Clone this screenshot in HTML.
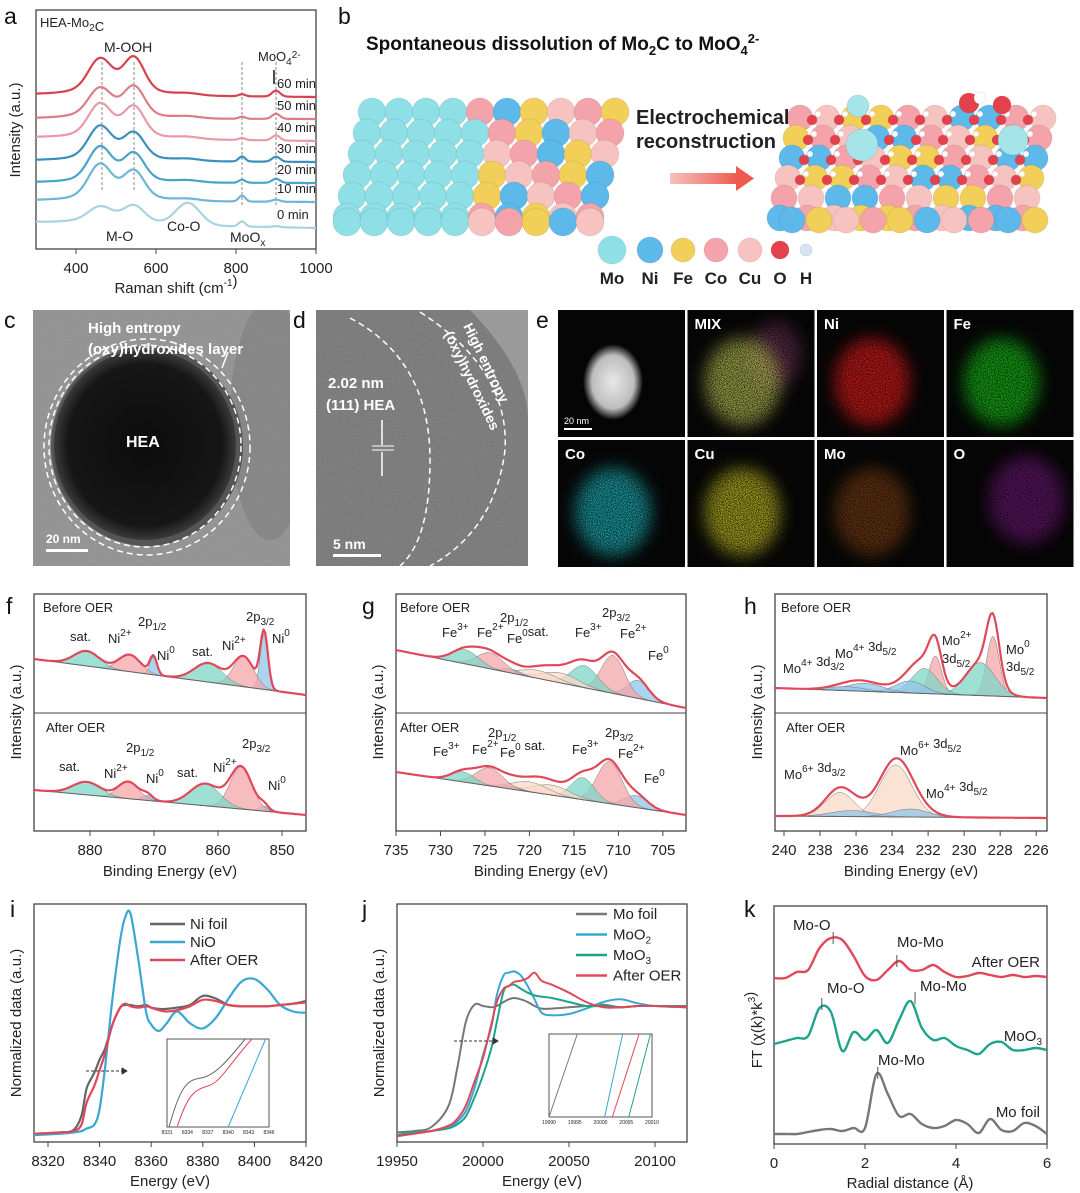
<!DOCTYPE html>
<html><head><meta charset="utf-8">
<style>
html,body{margin:0;padding:0;background:#fff;}
svg{display:block;font-family:"Liberation Sans",Arial,sans-serif;}
.tk{font-size:15px;fill:#222;}
.ax{font-size:15px;fill:#222;}
.lb{font-size:14px;fill:#222;}
.let{font-size:23px;fill:#111;}
.wt{fill:#fff;font-weight:bold;}
</style></head>
<body>
<svg id="fig" width="1080" height="1193" viewBox="0 0 1080 1193">
<defs>
 <filter id="grain" x="0" y="0" width="100%" height="100%"><feTurbulence type="fractalNoise" baseFrequency="0.9" numOctaves="2" seed="3"/><feColorMatrix type="matrix" values="0 0 0 0 0.5  0 0 0 0 0.5  0 0 0 0 0.5  0 0 0 0.5 0"/></filter>
 <filter id="speck" x="-20%" y="-20%" width="140%" height="140%"><feGaussianBlur in="SourceGraphic" stdDeviation="8" result="b"/><feTurbulence type="fractalNoise" baseFrequency="1.4" numOctaves="1" seed="7" result="n"/><feColorMatrix in="n" type="matrix" values="0 0 0 0 0  0 0 0 0 0  0 0 0 0 0  0 0 0 -2.2 1.6" result="m"/><feComposite in="b" in2="m" operator="in"/></filter>
 <clipPath id="clipc"><rect x="33" y="310" width="257" height="256"/></clipPath>
 <clipPath id="clipd"><rect x="316" y="310" width="212" height="256"/></clipPath>
 <clipPath id="clipi"><rect x="34" y="904" width="272" height="238"/></clipPath>
 <clipPath id="clipj"><rect x="397" y="904" width="290" height="238"/></clipPath>
 <radialGradient id="hea" cx="0.5" cy="0.5" r="0.5"><stop offset="0" stop-color="#0c0c0c"/><stop offset="0.85" stop-color="#161616"/><stop offset="1" stop-color="#3a3a3a"/></radialGradient>
 <radialGradient id="haadf" cx="0.5" cy="0.5" r="0.5"><stop offset="0" stop-color="#e8e8e8"/><stop offset="0.7" stop-color="#bdbdbd"/><stop offset="1" stop-color="#bdbdbd" stop-opacity="0"/></radialGradient>
 <linearGradient id="arr" x1="0" x2="1"><stop offset="0" stop-color="#f7c1bd"/><stop offset="1" stop-color="#ee5a4e"/></linearGradient>
</defs>

<text class="let" x="4" y="24">a</text>
<text class="let" x="338" y="24">b</text>
<text class="let" x="4" y="328">c</text>
<text class="let" x="293" y="328">d</text>
<text class="let" x="536" y="328">e</text>
<text class="let" x="6" y="614">f</text>
<text class="let" x="362" y="614">g</text>
<text class="let" x="744" y="614">h</text>
<text class="let" x="10" y="917">i</text>
<text class="let" x="362" y="917">j</text>
<text class="let" x="744" y="917">k</text>

<g id="pa"></g>
<g id="pb">
 <text x="366" y="50" font-size="19" font-weight="bold" fill="#111">Spontaneous dissolution of Mo<tspan font-size="13" dy="5">2</tspan><tspan dy="-5">C to MoO</tspan><tspan font-size="13" dy="5">4</tspan><tspan font-size="13" dy="-12">2-</tspan></text>
 <g id="spheres"></g>
 <text x="636" y="124" font-size="20" font-weight="bold" fill="#222">Electrochemical</text>
 <text x="636" y="148" font-size="20" font-weight="bold" fill="#222">reconstruction</text>
 <rect x="670" y="173" width="68" height="11" fill="url(#arr)"/>
 <polygon points="736,166 754,178.5 736,191" fill="#ee5a4e"/>
</g>

<g clip-path="url(#clipc)">
 <rect x="33" y="310" width="257" height="256" fill="#8e8e8e"/>
 <rect x="33" y="310" width="257" height="256" filter="url(#grain)" opacity="0.6"/>
 <ellipse cx="270" cy="420" rx="40" ry="120" fill="#7a7a7a" opacity="0.5"/>
 <ellipse cx="147" cy="446" rx="96" ry="100" fill="#555"/>
 <ellipse cx="145" cy="445" rx="91" ry="95" fill="url(#hea)"/>
 <ellipse cx="145" cy="446" rx="96" ry="101" fill="none" stroke="#fff" stroke-width="1.5" stroke-dasharray="6,4"/>
 <ellipse cx="147" cy="447" rx="103" ry="108" fill="none" stroke="#fff" stroke-width="1.5" stroke-dasharray="6,4"/>
 <line x1="222" y1="368" x2="228" y2="352" stroke="#fff" stroke-width="1.5"/>
 <text x="88" y="333" font-size="15" class="wt">High entropy</text>
 <text x="88" y="354" font-size="15" class="wt">(oxy)hydroxides layer</text>
 <text x="126" y="447" font-size="16" class="wt">HEA</text>
 <text x="46" y="543" font-size="12" class="wt">20 nm</text>
 <rect x="46" y="549" width="42" height="3" fill="#fff"/>
</g>
<g clip-path="url(#clipd)">
 <rect x="316" y="310" width="212" height="256" fill="#6e6e6e"/>
 <rect x="316" y="310" width="212" height="256" filter="url(#grain)" opacity="0.8"/>
 <path d="M470,310 Q528,370 528,420 L528,310 Z" fill="#9a9a9a"/>
 <path d="M350,318 Q430,360 430,460 Q430,540 400,566" fill="none" stroke="#fff" stroke-width="1.5" stroke-dasharray="6,4"/>
 <path d="M420,312 Q510,370 505,450 Q495,530 430,566" fill="none" stroke="#fff" stroke-width="1.5" stroke-dasharray="6,4"/>
 <text x="328" y="388" font-size="15" class="wt">2.02 nm</text>
 <text x="326" y="410" font-size="15" class="wt">(111) HEA</text>
 <line x1="382" y1="420" x2="382" y2="445" stroke="#fff" stroke-width="1.5"/>
 <line x1="382" y1="452" x2="382" y2="476" stroke="#fff" stroke-width="1.5"/>
 <line x1="372" y1="446" x2="394" y2="446" stroke="#fff" stroke-width="1"/>
 <line x1="372" y1="450" x2="394" y2="450" stroke="#fff" stroke-width="1"/>
 <text x="0" y="0" font-size="14" class="wt" transform="translate(463,326) rotate(64)">High entropy</text>
 <text x="0" y="0" font-size="14" class="wt" transform="translate(444,334) rotate(64)">(oxy)hydroxides</text>
 <text x="333" y="549" font-size="14" class="wt">5 nm</text>
 <rect x="333" y="554" width="48" height="3" fill="#fff"/>
</g>
<g id="pe"></g>

<g id="charts"></g>
</svg>

<script>
// ---------- data ----------
const ramanTimes = ['0 min','10 min','20 min','30 min','40 min','50 min','60 min'];
const ramanBaseLeft = [27,49,67,89,112,131,155];
const ramanBaseRight = [21,47,66,87,108,130,152];
const ramanCenters = [460,545,500,680,815,900];
const ramanSigmas = [28,25,80,30,8,10];
const h460 = [12,30,30,28,28,24,28];
const h545 = [14,24,24,22,26,26,30];
const hBroad = [6,8,7,8,8,8,10];
const h680 = [22,2,2,2,2,2,2];
const h815 = [5,6,3,5,2,2,2];
const h900 = [1,2,4,5,5,5,6];
const ramanColors = ['#a9d3e0','#6db6d4','#4aa3c8','#3a8fbf','#e99aa6','#dd7c88','#d6434f'];
const ramanTicks = [400,600,800,1000];

const niBeforeBase = [54,18];
const niBeforePeaks = [[852.8,56,0.6],[856,30,1.6],[861.5,19,2.2],[870.1,18,0.55],[873.8,17,1.7],[880.5,15,2.0]];
const niAfterBase = [41,16];
const niAfterPeaks = [[852.8,5,0.7],[856.4,42,1.7],[862,22,2.3],[871,5,0.8],[874,17,1.6],[880.5,13,2.2]];
const niTicks = [880,870,860,850];

const feBeforeBase = [63,5];
const feBeforePeaks = [[707.8,18,1.2],[710.6,38,1.3],[713.8,22,1.5],[716.5,10,2],[719,8,2],[722,4,1],[724.4,16,1.5],[727.2,14,1.5]];
const feAfterBase = [59,16];
const feAfterPeaks = [[708,12,1.3],[711,42,1.4],[714,22,1.3],[717.5,10,2],[720,10,2],[722,3,1],[724.5,18,1.5],[727.5,10,1.3]];
const feTicks = [735,730,725,720,715,710,705];

const moBeforeBase = [25,15];
const moBeforePeaks = [[228.4,60,0.35],[229.1,33,0.8],[231.6,38,0.35],[232.2,25,0.7],[233,12,0.8],[235.5,8,1],[236.5,4,1]];
const moAfterBase = [15,13];
const moAfterPeaks = [[233.8,52,0.9],[236.9,24,0.8],[236.2,6,1.2],[233,8,1]];
const moTicks = [240,238,236,234,232,230,228,226];

const niE = [8315,8325,8330,8333,8335,8338,8340,8342,8345,8348,8350,8352,8355,8358,8360,8363,8366,8370,8375,8380,8385,8390,8395,8400,8405,8410,8415,8420];
const niFoil = [0.01,0.02,0.04,0.15,0.36,0.48,0.58,0.66,0.85,0.98,1.0,1.0,0.99,1.0,0.98,0.97,0.97,0.98,1.0,1.07,1.05,1.0,0.99,0.99,0.99,1.0,1.01,1.03];
const niO = [0.0,0.01,0.02,0.03,0.05,0.08,0.2,0.5,1.05,1.5,1.68,1.7,1.35,0.95,0.85,0.8,0.86,0.95,0.86,0.82,0.9,1.05,1.18,1.2,1.12,1.0,0.95,0.94];
const niAfter = [0.01,0.02,0.03,0.08,0.25,0.38,0.5,0.62,0.85,0.98,1.01,0.99,0.98,0.99,0.98,0.96,0.95,0.96,0.99,1.04,1.03,1.0,0.99,0.99,0.99,1.0,1.01,1.02];
const niXTicks = [8320,8340,8360,8380,8400,8420];

const moE = [19950,19960,19970,19980,19985,19990,19995,20000,20005,20008,20012,20015,20018,20022,20026,20030,20034,20040,20050,20060,20070,20080,20090,20100,20119];
const moFoil = [0.02,0.03,0.06,0.22,0.5,0.85,0.98,0.97,0.96,0.97,1.0,1.02,1.03,1.02,1.0,0.97,0.95,0.95,0.96,0.97,0.98,0.96,0.97,0.97,0.97];
const moO2 = [0.0,0.02,0.03,0.06,0.1,0.18,0.35,0.6,0.82,1.05,1.2,1.22,1.23,1.2,1.12,1.02,0.92,0.9,0.91,0.95,1.0,1.02,0.99,0.97,0.96];
const moO3 = [0.0,0.02,0.03,0.05,0.08,0.14,0.28,0.45,0.66,0.85,1.08,1.12,1.13,1.1,1.07,1.05,1.04,1.03,1.0,0.97,0.97,0.96,0.97,0.97,0.96];
const moAfter = [-0.01,0.01,0.03,0.07,0.12,0.22,0.4,0.58,0.84,1.0,1.1,1.12,1.15,1.16,1.18,1.22,1.16,1.13,1.07,1.0,0.96,0.96,0.97,0.97,0.96];
const moXTicks = [19950,20000,20050,20100];
const moLegend = ['Mo foil','MoO2','MoO3','After OER'];

const ftR = [0,0.25,0.5,0.75,1,1.25,1.5,1.75,2,2.25,2.5,2.75,3,3.25,3.5,3.75,4,4.25,4.5,4.75,5,5.25,5.5,5.75,6];
const ftAfter = [16.6,16.6,17.2,17.4,19.6,20.6,20.4,18.8,16.8,16.4,17.4,18.3,17.4,17.4,17.9,17.2,16.7,16.8,17.1,16.9,16.7,16.9,16.7,16.8,16.7];
const ftMoO3 = [10.0,10.3,10.6,10.8,13.6,13.2,9.3,11.2,10.4,11.4,10.1,12.4,14.3,11.6,10.4,10.6,9.8,9.4,9.0,10.0,10.2,9.4,9.4,9.6,9.4];
const ftMoFoil = [1.0,1.0,1.0,1.2,1.4,1.5,1.3,1.6,1.6,7.0,5.0,2.8,3.0,2.0,1.6,1.8,2.4,2.0,1.1,2.5,1.4,1.3,2.1,1.8,1.0];
const ftTicks = [0,2,4,6];

// ---------- helpers ----------
const NS = 'http://www.w3.org/2000/svg';
function el(tag, parent){ const e=document.createElementNS(NS,tag); parent.appendChild(e); return e; }
function smooth(p){
  let d='M'+p[0][0].toFixed(1)+','+p[0][1].toFixed(1);
  for(let i=0;i<p.length-1;i++){
    const p0=p[i-1]||p[i], p1=p[i], p2=p[i+1], p3=p[i+2]||p2;
    const c1=[p1[0]+(p2[0]-p0[0])/6, p1[1]+(p2[1]-p0[1])/6];
    const c2=[p2[0]-(p3[0]-p1[0])/6, p2[1]-(p3[1]-p1[1])/6];
    d+='C'+c1[0].toFixed(1)+','+c1[1].toFixed(1)+' '+c2[0].toFixed(1)+','+c2[1].toFixed(1)+' '+p2[0].toFixed(1)+','+p2[1].toFixed(1);
  }
  return d;
}
function lin(d0,d1,r0,r1){ return v=> r0+(v-d0)*(r1-r0)/(d1-d0); }
function gauss(x,c,h,s){ return h*Math.exp(-(x-c)*(x-c)/(2*s*s)); }
const charts=document.getElementById('charts');

function frame(x0,y0,x1,y1,name){
  const r=el('rect',charts);
  r.setAttribute('x',x0);r.setAttribute('y',y0);r.setAttribute('width',x1-x0);r.setAttribute('height',y1-y0);
  r.setAttribute('fill','none');r.setAttribute('stroke','#444');r.setAttribute('stroke-width','1.3');
  
  
}
function xTicks(ticks,sx,y,lab,name){
  ticks.forEach(t=>{
    const x=sx(t);
    const l=el('line',charts);
    l.setAttribute('x1',x);l.setAttribute('x2',x);l.setAttribute('y1',y);l.setAttribute('y2',y+5);l.setAttribute('stroke','#444');
    
    
    const tx=el('text',charts);
    tx.setAttribute('x',x);tx.setAttribute('y',y+24);tx.setAttribute('text-anchor','middle');tx.setAttribute('class','tk');
    tx.textContent=lab?lab(t):t;
    
    
  });
}
function text(x,y,str,cls,name,extra,parent){
  const t=el('text',parent||charts);
  t.setAttribute('x',x);t.setAttribute('y',y);t.setAttribute('class',cls||'lb');
  t.innerHTML=str;
  if(extra) for(const k in extra) t.setAttribute(k,extra[k]);
  
  
  return t;
}
function ylabel(x,y,str,name){
  return text(0,0,str,'ax',name,{transform:'translate('+x+','+y+') rotate(-90)','text-anchor':'middle'});
}
function path(d,stroke,w,fill,name,parent){
  const p=el('path',parent||charts);
  p.setAttribute('d',d);p.setAttribute('stroke',stroke);p.setAttribute('stroke-width',w);p.setAttribute('fill',fill||'none');
  p.setAttribute('stroke-linejoin','round');
  
  
  return p;
}
function sub(s){return '<tspan font-size="10" dy="4">'+s+'</tspan><tspan dy="-4"></tspan>';}
function sup(s){return '<tspan font-size="10" dy="-7">'+s+'</tspan><tspan dy="7"></tspan>';}

// ---------- panel a ----------
(function(){
  const sx=lin(300,1000,36,316), sy=v=>249-v;
  frame(36,10,316,249,'raman-plot-frame');
  xTicks(ramanTicks,sx,249,null,'raman-x');
  text(176,293,'Raman shift (cm'+sup('-1')+')','ax','raman-x-axis-title',{'text-anchor':'middle'});
  ylabel(20,130,'Intensity (a.u.)','raman-y-axis-title');
  [465,545,815,900].forEach((c,i)=>{
    const p=path('M'+sx(c)+',62 L'+sx(c)+','+(i<2?190:205),'#888',1,null,'raman-guide-line');
    p.setAttribute('stroke-dasharray','3,2');
  });
  ramanTimes.forEach((t,k)=>{
    const pts=[];
    for(let x=300;x<=1000;x+=5){
      const base=ramanBaseLeft[k]+(ramanBaseRight[k]-ramanBaseLeft[k])*(x-300)/700;
      const hs=[h460[k],h545[k],hBroad[k],h680[k],h815[k],h900[k]];
      let v=base; hs.forEach((h,j)=>{v+=gauss(x,ramanCenters[j],h,ramanSigmas[j]);});
      pts.push([sx(x),sy(v)]);
    }
    path(smooth(pts),ramanColors[k],2.2,null,'raman-curve-'+t.replace(' ','-'));
    text(277,sy(ramanBaseRight[k])-9,t,'lb','raman-time-label',{style:'font-size:13px'});
  });
  text(40,27,'HEA-Mo'+sub('2')+'C','lb','sample-label',{style:'font-size:13px'});
  text(104,52,'M-OOH','lb','m-ooh-label');
  text(258,61,'MoO'+sub('4')+sup('2-'),'lb','moo4-label',{style:'font-size:13px'});
  path('M274,84 L274,70','#111',1.5,null,'moo4-arrow');
  text(106,241,'M-O','lb','m-o-label');
  text(167,231,'Co-O','lb','co-o-label');
  text(230,242,'MoO'+sub('x'),'lb','moox-label');
})();

// ---------- XPS ----------
const compCol=['#8fc6ea','#f4a6a8','#7fd6c6','#f8d9c6'];
function xps(cfg){
  const sx=lin(cfg.d0,cfg.d1,cfg.x0,cfg.x1);
  frame(cfg.x0,594,cfg.x1,831,cfg.name+'-frame');
  const div=el('line',charts);
  div.setAttribute('x1',cfg.x0);div.setAttribute('x2',cfg.x1);div.setAttribute('y1',713);div.setAttribute('y2',713);div.setAttribute('stroke','#444');
  
  
  [[cfg.bBase,cfg.bPeaks,713,'before'],[cfg.aBase,cfg.aPeaks,831,'after']].forEach(([base,peaks,bot,tag])=>{
    const N=160, xs=[];
    for(let i=0;i<=N;i++) xs.push(cfg.d0+(cfg.d1-cfg.d0)*i/N);
    const bl=x=>base[0]+(base[1]-base[0])*(x-cfg.d0)/(cfg.d1-cfg.d0);
    peaks.forEach((pk,j)=>{
      const top=xs.map(x=>[sx(x),bot-bl(x)-gauss(x,pk[0],pk[1],pk[2])]);
      const bottom=xs.slice().reverse().map(x=>[sx(x),bot-bl(x)]);
      const col=cfg.colors[tag][j];
      const p=path('M'+top.map(q=>q[0].toFixed(1)+','+q[1].toFixed(1)).join('L')+'L'+bottom.map(q=>q[0].toFixed(1)+','+q[1].toFixed(1)).join('L')+'Z','#777',0.5,col,cfg.name+'-'+tag+'-component');
      p.setAttribute('fill-opacity','0.75');
    });
    path('M'+xs.map(x=>sx(x).toFixed(1)+','+(bot-bl(x)).toFixed(1)).join('L'),'#666',1,null,cfg.name+'-'+tag+'-background');
    const env=xs.map(x=>{let v=bl(x);peaks.forEach(pk=>v+=gauss(x,pk[0],pk[1],pk[2]));return [sx(x),bot-v];});
    path('M'+env.map(q=>q[0].toFixed(1)+','+q[1].toFixed(1)).join('L'),'#e0485a',2.2,null,cfg.name+'-'+tag+'-envelope');
  });
  xTicks(cfg.ticks,sx,831,null,cfg.name+'-x');
  text((cfg.x0+cfg.x1)/2,876,'Binding Energy (eV)','ax',cfg.name+'-x-axis-title',{'text-anchor':'middle'});
  ylabel(cfg.x0-13,712,'Intensity (a.u.)',cfg.name+'-y-axis-title');
}
const B=compCol[0],P=compCol[1],T=compCol[2],L=compCol[3];
xps({name:'ni-2p',d0:888.75,d1:846.25,x0:34,x1:306,ticks:niTicks,bBase:niBeforeBase,bPeaks:niBeforePeaks,aBase:niAfterBase,aPeaks:niAfterPeaks,
  colors:{before:[B,P,T,B,P,T],after:[B,P,T,B,P,T]}});
xps({name:'fe-2p',d0:735,d1:702.4,x0:396,x1:686,ticks:feTicks,bBase:feBeforeBase,bPeaks:feBeforePeaks,aBase:feAfterBase,aPeaks:feAfterPeaks,
  colors:{before:[B,P,T,L,L,B,P,T],after:[B,P,T,L,L,B,P,T]}});
xps({name:'mo-3d',d0:240.5,d1:225.4,x0:775,x1:1047,ticks:moTicks,bBase:moBeforeBase,bPeaks:moBeforePeaks,aBase:moAfterBase,aPeaks:moAfterPeaks,
  colors:{before:[P,T,P,T,B,B,B],after:[L,L,B,B]}});

[[43,612,'Before OER'],[70,641,'sat.'],[108,643,'Ni'+sup('2+')],[138,626,'2p'+sub('1/2')],[157,660,'Ni'+sup('0')],[192,656,'sat.'],[222,650,'Ni'+sup('2+')],[246,621,'2p'+sub('3/2')],[272,643,'Ni'+sup('0')],
 [46,732,'After OER'],[59,771,'sat.'],[104,778,'Ni'+sup('2+')],[126,752,'2p'+sub('1/2')],[146,783,'Ni'+sup('0')],[177,777,'sat.'],[213,772,'Ni'+sup('2+')],[242,748,'2p'+sub('3/2')],[268,790,'Ni'+sup('0')],
 [400,612,'Before OER'],[442,637,'Fe'+sup('3+')],[477,637,'Fe'+sup('2+')],[500,622,'2p'+sub('1/2')],[507,643,'Fe'+sup('0')+'sat.'],[575,637,'Fe'+sup('3+')],[602,617,'2p'+sub('3/2')],[620,638,'Fe'+sup('2+')],[648,660,'Fe'+sup('0')],
 [400,732,'After OER'],[433,756,'Fe'+sup('3+')],[472,754,'Fe'+sup('2+')],[488,737,'2p'+sub('1/2')],[500,757,'Fe'+sup('0')+' sat.'],[572,754,'Fe'+sup('3+')],[605,737,'2p'+sub('3/2')],[618,758,'Fe'+sup('2+')],[644,783,'Fe'+sup('0')],
 [781,612,'Before OER'],[783,673,'Mo'+sup('4+')+' 3d'+sub('3/2')],[835,658,'Mo'+sup('4+')+' 3d'+sub('5/2')],[942,645,'Mo'+sup('2+')],[942,663,'3d'+sub('5/2')],[1006,654,'Mo'+sup('0')],[1006,671,'3d'+sub('5/2')],
 [786,732,'After OER'],[784,779,'Mo'+sup('6+')+' 3d'+sub('3/2')],[900,755,'Mo'+sup('6+')+' 3d'+sub('5/2')],[926,798,'Mo'+sup('4+')+' 3d'+sub('5/2')]
].forEach(a=>text(a[0],a[1],a[2],'lb','xps-peak-label',{style:'font-size:13px'}));

// ---------- i ----------
(function(){
  const sx=lin(8320,8420,48,306), sy=v=>1135-v*130;
  frame(34,904,306,1142,'ni-xanes-frame');
  const g=el('g',charts); g.setAttribute('clip-path','url(#clipi)');
  
  
  const series=[[niFoil,'#666','Ni foil'],[niO,'#3aa7d3','NiO'],[niAfter,'#e0485a','After OER']];
  series.forEach(([vals,col,nm],k)=>{
    path(smooth(niE.map((e,i)=>[sx(e),sy(vals[i])])),col,2.2,null,'ni-xanes-'+nm.replace(' ','-'),g);
    const ly=924+k*18;
    path('M150,'+ly+' L185,'+ly,col,2.5,null,'legend-swatch');
    text(190,ly+5,nm,'ax','legend-entry');
  });
  xTicks(niXTicks,sx,1142,null,'ni-x');
  text(170,1186,'Energy (eV)','ax','ni-x-axis-title',{'text-anchor':'middle'});
  ylabel(21,1023,'Normalized data (a.u.)','ni-y-axis-title');
  const a=path('M86,1071 L122,1071','#333',1,null,'edge-shift-arrow'); a.setAttribute('stroke-dasharray','3,2');
  path('M122,1068 L127,1071 L122,1074 Z','#333',1,'#333','edge-shift-arrowhead');
  const ir=el('rect',charts); ir.setAttribute('x',167);ir.setAttribute('y',1039);ir.setAttribute('width',102);ir.setAttribute('height',88);ir.setAttribute('fill','#fff');ir.setAttribute('stroke','#555');
  
  
  const ix=lin(8331,8346,167,269);
  path('M'+ix(8331.3)+',1127 C'+ix(8333)+',1085 '+ix(8334)+',1080 '+ix(8336)+',1078 S'+ix(8340)+',1060 '+ix(8342.5)+',1039','#666',1,null,'inset-ni-foil');
  path('M'+ix(8332.5)+',1127 C'+ix(8334)+',1095 '+ix(8335)+',1090 '+ix(8337)+',1086 S'+ix(8340)+',1065 '+ix(8343.5)+',1039','#e0485a',1,null,'inset-after');
  path('M'+ix(8340)+',1127 L'+ix(8345.5)+',1039','#3aa7d3',1,null,'inset-nio');
  [8331,8334,8337,8340,8343,8346].forEach(t=>text(ix(t),1134,t,'lb','inset-tick',{style:'font-size:5px','text-anchor':'middle'}));
})();

// ---------- j ----------
(function(){
  const sx=lin(19950,20100,397,655), sy=v=>1135-v*133;
  frame(397,904,687,1142,'mo-xanes-frame');
  const g=el('g',charts); g.setAttribute('clip-path','url(#clipj)');
  
  
  const cols=['#777','#3aa7d3','#1fa38c','#e0485a'];
  [moFoil,moO2,moO3,moAfter].forEach((vals,k)=>{
    path(smooth(moE.map((e,i)=>[sx(e),sy(vals[i])])),cols[k],2,null,'mo-xanes-'+k,g);
    const ly=914+k*20.5;
    path('M576,'+ly+' L607,'+ly,cols[k],2.5,null,'legend-swatch');
    const lab=moLegend[k].replace(/O(\d)$/,'O'+sub('$1'));
    text(613,ly+5,lab,'ax','legend-entry');
  });
  xTicks(moXTicks,sx,1142,null,'mo-x');
  text(542,1186,'Energy (eV)','ax','mo-x-axis-title',{'text-anchor':'middle'});
  ylabel(384,1023,'Normalized data (a.u.)','mo-y-axis-title');
  const a=path('M454,1041 L493,1041','#333',1,null,'edge-shift-arrow'); a.setAttribute('stroke-dasharray','3,2');
  path('M493,1038 L498,1041 L493,1044 Z','#333',1,'#333','edge-shift-arrowhead');
  const ir=el('rect',charts); ir.setAttribute('x',549);ir.setAttribute('y',1034);ir.setAttribute('width',103);ir.setAttribute('height',83);ir.setAttribute('fill','#fff');ir.setAttribute('stroke','#555');
  
  
  const ix=lin(19990,20010,549,652);
  [[19990,19995.5,'#777'],[20000.8,20004.3,'#3aa7d3'],[20002.3,20007.5,'#e0485a'],[20005.5,20009.7,'#1fa38c']].forEach(s=>path('M'+ix(s[0])+',1117 L'+ix(s[1])+',1034',s[2],1,null,'inset-edge'));
  [19990,19995,20000,20005,20010].forEach(t=>text(ix(t),1124,t,'lb','inset-tick',{style:'font-size:5px','text-anchor':'middle'}));
})();

// ---------- k ----------
(function(){
  const sx=lin(0,6,774,1047), sy=v=>1144-v*10;
  frame(774,906,1047,1144,'exafs-frame');
  [[ftAfter,'#e0485a','after-oer'],[ftMoO3,'#1fa38c','moo3'],[ftMoFoil,'#777','mo-foil']].forEach(([vals,col,nm])=>{
    path(smooth(ftR.map((r,i)=>[sx(r),sy(vals[i])])),col,2.4,null,'ft-curve-'+nm);
  });
  xTicks(ftTicks,sx,1144,null,'ft-x');
  text(910,1188,'Radial distance (Å)','ax','ft-x-axis-title',{'text-anchor':'middle'});
  ylabel(762,1030,'FT (χ(k)*k'+sup('3')+')','ft-y-axis-title');
  [[1.3,938,'Mo-O',793,930],[2.7,961,'Mo-Mo',897,947],[1.05,1004,'Mo-O',827,993],[3.1,998,'Mo-Mo',920,991],[2.28,1073,'Mo-Mo',878,1065]].forEach(m=>{
    path('M'+sx(m[0])+','+(m[1]-6)+' L'+sx(m[0])+','+(m[1]+6),'#555',1,null,'peak-marker');
    text(m[3],m[4],m[2],'ax','peak-label');
  });
  text(1040,967,'After OER','ax','curve-label-after',{'text-anchor':'end'});
  text(1042,1041,'MoO'+sub('3'),'ax','curve-label-moo3',{'text-anchor':'end'});
  text(1040,1117,'Mo foil','ax','curve-label-mo-foil',{'text-anchor':'end'});
})();

// ---------- b spheres ----------
(function(){
  const g=document.getElementById('spheres');
  const mix=['#f4a3ab','#f2cf58','#5db9ea','#f6c3c0','#f4a3ab','#5db9ea','#f2cf58','#f6c3c0'];
  function ball(x,y,r,c){
    const s=el('circle',g); s.setAttribute('cx',x);s.setAttribute('cy',y);s.setAttribute('r',r);s.setAttribute('fill',c);
    s.setAttribute('stroke','rgba(0,0,0,0.08)');
    
    
  }
  for(let r=0;r<6;r++){
    const y=112+r*21;
    for(let c=0;c<10;c++){
      const x=372-r*5+c*27;
      ball(x,y,14,(x<478)?'#8fe0e6':mix[(c+r*3)%8]);
    }
  }
  for(let c=0;c<10;c++){ const x=347+c*27; ball(x,222,14,x<478?'#8fe0e6':mix[(c+2)%8]); }
  for(let r=0;r<6;r++){
    const y=118+r*20;
    for(let c=0;c<10;c++) ball(800-r*4+c*27,y,13,mix[(c*3+r)%8]);
  }
  for(let c=0;c<10;c++) ball(792+c*27,220,13,mix[(c+5)%8]);
  for(let r=0;r<4;r++) for(let c=0;c<9;c++){ball(812-r*4+c*27,120+r*20,5,'#e5414c');ball(818-r*4+c*27,114+r*20,3,'#ffffff');}
  ball(862,145,16,'#a5e5ea');ball(1013,140,15,'#a5e5ea');ball(858,106,11,'#a5e5ea');ball(969,103,10,'#e5414c');ball(980,98,6,'#fff');ball(1002,105,9,'#e5414c');
  [[612,14,'#8fe0e6','Mo'],[650,13,'#5db9ea','Ni'],[683,12,'#f2cf58','Fe'],[716,12,'#f4a3ab','Co'],[750,12,'#f6c3c0','Cu'],[780,9,'#e5414c','O'],[806,6,'#d8e4f0','H']].forEach(l=>{
    ball(l[0],250,l[1],l[2]);
    const t=el('text',g); t.setAttribute('x',l[0]);t.setAttribute('y',284);t.setAttribute('text-anchor','middle');
    t.setAttribute('font-size','17');t.setAttribute('font-weight','bold');t.setAttribute('fill','#222');t.textContent=l[3];
    
    
  });
})();

// ---------- e tiles ----------
(function(){
  const g=document.getElementById('pe');
  const tiles=[['',null],['MIX','#c9d45a'],['Ni','#ff1a1a'],['Fe','#19d419'],['Co','#1fc8d0'],['Cu','#d6d020'],['Mo','#c5641c'],['O','#b020c0']];
  tiles.forEach((t,i)=>{
    const x=558+(i%4)*129.5, y=i<4?310:440;
    const r=el('rect',g); r.setAttribute('x',x);r.setAttribute('y',y);r.setAttribute('width',127);r.setAttribute('height',127);r.setAttribute('fill','#050505');
    
    
    const cx=x+(i===7?80:55), cy=y+(i===7?60:72);
    if(i===1){
      const b2=el('ellipse',g); b2.setAttribute('cx',x+88);b2.setAttribute('cy',y+45);b2.setAttribute('rx',26);b2.setAttribute('ry',34);
      b2.setAttribute('fill','#b0508a');b2.setAttribute('opacity','0.6');b2.setAttribute('filter','url(#speck)');
      
      
    }
    const b=el('ellipse',g);
    b.setAttribute('cx',cx);b.setAttribute('cy',cy);b.setAttribute('rx',i===0?30:38);b.setAttribute('ry',i===0?38:44);
    b.setAttribute('fill',i===0?'url(#haadf)':t[1]);
    b.setAttribute('opacity',i===0?1:(i>=6?0.65:1));
    if(i!==0) b.setAttribute('filter','url(#speck)');
    
    
    if(t[0]){
      const tx=el('text',g); tx.setAttribute('x',x+7);tx.setAttribute('y',y+19);tx.setAttribute('font-size','15');tx.setAttribute('class','wt');tx.textContent=t[0];
      
      
    }
  });
  const sb=el('rect',g); sb.setAttribute('x',564);sb.setAttribute('y',428);sb.setAttribute('width',28);sb.setAttribute('height',2);sb.setAttribute('fill','#fff');
  
  
  const st=el('text',g); st.setAttribute('x',564);st.setAttribute('y',424);st.setAttribute('font-size','9');st.setAttribute('fill','#fff');st.textContent='20 nm';
  
  
})();
</script>
</body></html>
